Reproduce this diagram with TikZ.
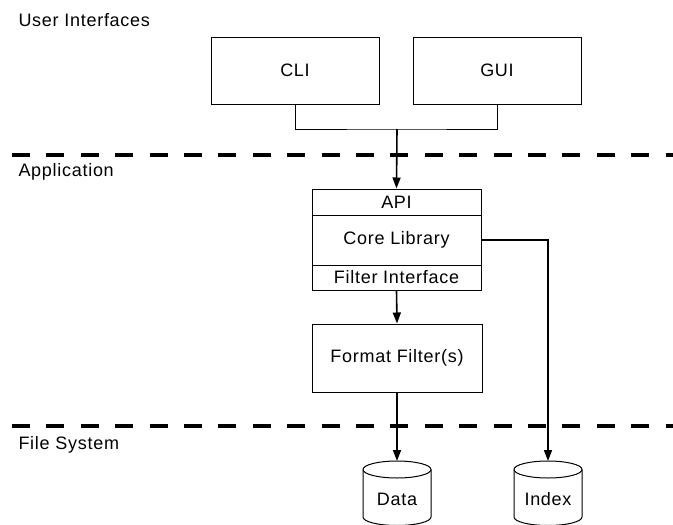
\documentclass[tikz,border=0pt]{standalone}
\usepackage{fontspec}
\setmainfont{Liberation Sans}[LetterSpace=4]
\usetikzlibrary{arrows.meta}
\begin{document}
\begin{tikzpicture}[x=1pt,y=-1pt,
  txt/.style={font=\fontsize{18}{21}\selectfont},
  box/.style={draw, line width=1pt, inner sep=0pt, txt},
  joiner/.style={line width=1pt},
  conn/.style={line width=1.6pt, -{Triangle[length=11pt,width=8pt]}},
  layer/.style={line width=4pt, dash pattern=on 18pt off 16.4pt},
  lbl/.style={anchor=base west, txt},
  cyl/.style={line width=1pt}]
\useasboundingbox (0,0) rectangle (673,525);
\clip (0,0) rectangle (673,525);
% layer separators
\draw[layer] (12,155) -- (673,155);
\draw[layer] (12,425.7) -- (673,425.7);
% layer labels
\node[lbl] (ui) at (15,26.7) {User Interfaces};
\node[lbl] (app) at (15,176.7) {Application};
\node[lbl] (fs) at (15,449) {File System};
% user interface boxes
\node[box, minimum width=168pt, minimum height=67pt] (cli) at (295,70.5) {CLI};
\node[box, minimum width=168pt, minimum height=67pt] (gui) at (497,70.5) {GUI};
% application stack
\node[box, minimum width=169pt, minimum height=26pt] (api) at (396.5,202) {API};
\node[box, minimum width=169pt, minimum height=50pt] (core) at (396.5,240) {Core Library};
\node[box, minimum width=169pt, minimum height=25pt] (filt) at (396.5,277.5) {Filter Interface};
\node[box, minimum width=170pt, minimum height=68pt] (fmt) at (397,358) {Format Filter(s)};
% cylinders
\foreach \cx/\nm/\tx in {397/data/Data, 548/index/Index}{
  \draw[cyl, fill=white] (\cx-34,469.5) -- (\cx-34,517) arc[start angle=180,end angle=360,x radius=34,y radius=-8.5]
     -- (\cx+34,469.5) arc[start angle=0,end angle=180,x radius=34,y radius=-8.5] -- cycle;
  \draw[cyl] (\cx-34,469.5) arc[start angle=180,end angle=360,x radius=34,y radius=-8.5];
  \node[txt] (\nm) at (\cx,499) {\tx};
  \coordinate (\nm top) at (\cx,461);
}
% connectors
\coordinate (join) at (397,129);
\draw[joiner] (cli.south) |- (join) -| (gui.south);
\draw[conn] (join) -- (api.north);
\draw[conn] (filt.south) -- (fmt.north);
\draw[conn] (fmt.south) -- (datatop);
\draw[conn] (core.east) -| (indextop);
\end{tikzpicture}
\end{document}
